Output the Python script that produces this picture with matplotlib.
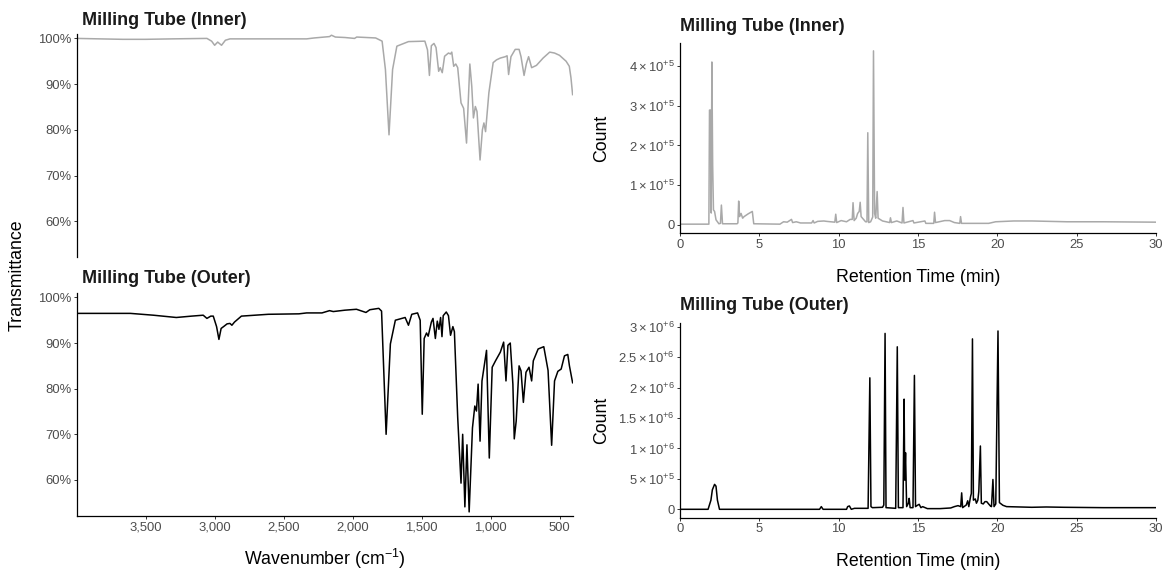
import matplotlib
matplotlib.use("Agg")
import matplotlib.pyplot as plt
from matplotlib.ticker import FuncFormatter, FixedLocator

plt.rcParams['font.family'] = ['Liberation Sans', 'DejaVu Sans']
plt.rcParams['mathtext.fontset'] = 'custom'
plt.rcParams['mathtext.rm'] = 'Liberation Sans'
plt.rcParams['mathtext.it'] = 'Liberation Sans:italic'
plt.rcParams['mathtext.bf'] = 'Liberation Sans:bold'

# ---------------- DATA ----------------
ir_inner_wn = [4000, 3667, 3500, 3306, 3056, 3022, 3000, 2978, 2950, 2922, 2889, 2611, 2333, 2278,
               2167, 2153, 2125, 2056, 1986, 1970, 1833, 1786, 1762, 1736, 1710, 1679, 1595, 1476,
               1457, 1443, 1429, 1410, 1395, 1376, 1365, 1350, 1333, 1305, 1290, 1281, 1267, 1252,
               1238, 1214, 1195, 1174, 1150, 1136, 1124, 1110, 1098, 1076, 1059, 1048, 1036, 1012,
               981, 957, 929, 893, 880, 869, 852, 821, 793, 779, 757, 740, 724, 702, 667, 619, 571,
               536, 500, 452, 429, 417, 405]
ir_inner_t = [100.0, 99.8, 99.8, 99.9, 100.0, 99.4, 98.5, 99.2, 98.5, 99.6, 99.9, 99.9, 99.9, 100.1,
              100.4, 100.7, 100.3, 100.2, 100.0, 100.3, 100.1, 99.4, 93.2, 78.9, 93.2, 98.3, 99.3, 99.4,
              97.5, 91.9, 98.4, 98.9, 98.0, 92.8, 93.6, 92.5, 96.1, 96.8, 96.6, 97.0, 93.9, 94.4,
              93.6, 85.9, 84.7, 77.1, 94.4, 89.5, 82.6, 85.1, 84.0, 73.4, 80.0, 81.5, 79.6, 88.1,
              94.7, 95.3, 95.7, 96.0, 96.2, 92.1, 96.0, 97.6, 97.6, 96.0, 91.9, 94.5, 96.0, 93.6, 94.1, 95.7, 97.0,
              96.8, 96.3, 95.0, 93.9, 91.4, 87.7]

ir_outer_wn = [4000, 3611, 3444, 3278, 3167, 3083, 3056, 3028, 3010, 2986, 2969, 2953, 2931, 2910,
               2889, 2875, 2856, 2806, 2611, 2389, 2333, 2222, 2167, 2140, 2056, 1972, 1903, 1875,
               1810, 1790, 1757, 1726, 1690, 1619, 1595, 1571, 1529, 1510, 1495, 1481, 1464, 1452,
               1429, 1417, 1400, 1386, 1374, 1362, 1352, 1343, 1321, 1305, 1290, 1273, 1262, 1238,
               1214, 1202, 1186, 1171, 1155, 1131, 1114, 1102, 1090, 1076, 1062, 1029, 1009, 988,
               964, 929, 905, 888, 874, 857, 838, 828, 814, 793, 779, 762, 743, 721, 702, 690, 655,
               614, 583, 557, 536, 512, 488, 464, 440, 428, 405]
ir_outer_t = [96.5, 96.5, 96.1, 95.6, 95.9, 96.1, 95.4, 95.9, 95.9, 93.6, 90.8, 93.2, 93.7, 94.2,
              94.3, 93.9, 94.6, 95.9, 96.3, 96.4, 96.6, 96.6, 97.1, 96.9, 97.2, 97.4, 96.7, 97.3,
              97.6, 97.0, 70.0, 89.8, 95.0, 95.6, 93.9, 96.3, 96.6, 95.0, 74.4, 91.0, 92.2, 91.5,
              94.6, 95.4, 91.0, 94.8, 93.0, 95.6, 91.4, 96.0, 96.8, 96.0, 91.7, 93.6, 92.5, 73.7,
              59.3, 70.0, 54.1, 67.7, 53.0, 71.4, 76.2, 75.1, 81.0, 68.5, 81.7, 88.4, 64.8, 84.7,
              86.1, 88.0, 90.2, 81.7, 89.5, 90.0, 81.0, 69.0, 72.9, 85.0, 83.9, 77.0, 83.6, 84.7, 81.7, 86.1, 88.7,
              89.2, 84.0, 67.6, 81.7, 83.8, 84.3, 87.2, 87.5, 85.0, 81.3]

gc_inner_time = [0.00, 1.82, 1.86, 1.93, 1.97, 2.01, 2.06, 2.11, 2.18, 2.27, 2.45, 2.55, 2.61, 2.68,
                 3.60, 3.65, 3.70, 3.76, 3.85, 3.95, 4.04, 4.30, 4.56, 4.65, 6.30, 6.53, 6.76, 7.03,
                 7.10, 7.33, 7.60, 8.30, 8.39, 8.46, 8.68, 9.07, 9.25, 9.76, 9.82, 9.88, 10.16, 10.50,
                 10.73, 10.86, 10.91, 10.98, 11.11, 11.20, 11.30, 11.36, 11.42, 11.70, 11.79, 11.84,
                 11.90, 12.02, 12.15, 12.20, 12.27, 12.34, 12.43, 12.49, 12.77, 13.00, 13.22, 13.27,
                 13.33, 13.67, 14.00, 14.06, 14.12, 14.69, 14.75, 15.44, 15.50, 16.00, 16.05, 16.11,
                 16.69, 17.00, 17.30, 17.64, 17.69, 17.75, 18.55, 19.46, 19.90, 21.04, 22.20, 24.40,
                 26.70, 30.00]
gc_inner_count = [0.02, 0.02, 2.89, 2.89, 0.30, 4.10, 1.50, 0.38, 0.34, 0.13, 0.03, 0.04, 0.50, 0.03,
                  0.03, 0.05, 0.60, 0.21, 0.29, 0.17, 0.21, 0.28, 0.34, 0.03, 0.02, 0.08, 0.07, 0.14,
                  0.06, 0.08, 0.05, 0.05, 0.11, 0.05, 0.09, 0.10, 0.09, 0.07, 0.27, 0.06, 0.11, 0.08,
                  0.14, 0.14, 0.56, 0.11, 0.17, 0.29, 0.34, 0.57, 0.21, 0.08, 0.08, 2.32,
                  0.06, 0.08, 0.20, 4.38, 0.29, 0.17, 0.84, 0.17, 0.10, 0.08, 0.06, 0.18,
                  0.06, 0.10, 0.05, 0.44, 0.05, 0.11, 0.05, 0.10, 0.04, 0.04, 0.32, 0.06,
                  0.11, 0.11, 0.06, 0.04, 0.21, 0.04, 0.04, 0.04, 0.08, 0.10, 0.10, 0.08,
                  0.08, 0.07]  # x 1e5

gc_outer_time = [0.00, 1.77, 1.95, 2.04, 2.18, 2.27, 2.36, 2.49, 8.80, 8.91, 9.02, 10.50, 10.57, 10.68,
                 10.80, 11.00, 11.86, 11.97, 12.04, 12.13, 12.77, 12.85, 12.93, 12.99, 13.60, 13.70,
                 13.77, 14.06, 14.13, 14.17, 14.22, 14.29, 14.40, 14.45, 14.51, 14.69, 14.78, 14.85,
                 14.97, 15.08, 15.19, 15.30, 15.60, 16.39, 17.07, 17.30, 17.53, 17.70, 17.76, 17.82,
                 18.05, 18.14, 18.21, 18.32, 18.37, 18.44, 18.50, 18.62, 18.69, 18.78, 18.84, 18.94,
                 19.00, 19.12, 19.23, 19.34, 19.46, 19.57, 19.64, 19.73, 19.80, 19.91, 20.05, 20.14,
                 20.25, 20.36, 20.59, 22.18, 23.09, 24.22, 26.70, 30.00]
gc_outer_count = [0.0, 0.0, 0.15, 0.32, 0.41, 0.38, 0.15, 0.0, 0.0, 0.044, 0.0, 0.0, 0.044, 0.055,
                  0.0, 0.016, 0.016, 2.16, 0.044, 0.027, 0.033, 0.07, 2.89, 0.027, 0.016, 2.67,
                  0.027, 0.027, 1.81, 0.48, 0.93, 0.044, 0.10, 0.18, 0.027, 0.027, 2.20, 0.044,
                  0.066, 0.082, 0.027, 0.044, 0.011, 0.011, 0.022, 0.044, 0.060, 0.044, 0.27, 0.027,
                  0.071, 0.14, 0.044, 0.21, 0.26, 2.80, 0.15, 0.17, 0.10, 0.15, 0.29, 1.04,
                  0.10, 0.088, 0.126, 0.126, 0.088, 0.055, 0.044, 0.49, 0.044, 0.088, 2.93, 0.11,
                  0.088, 0.066, 0.044, 0.033, 0.038, 0.033, 0.027, 0.027]  # x 1e6

ir_xticks = [3500, 3000, 2500, 2000, 1500, 1000, 500]
ir_yticks = [60, 70, 80, 90, 100]
gc_xticks = [0, 5, 10, 15, 20, 25, 30]
gc_inner_yticks = [0, 1e5, 2e5, 3e5, 4e5]
gc_inner_ylabels = ['0', r'$1\times10^{+5}$', r'$2\times10^{+5}$', r'$3\times10^{+5}$', r'$4\times10^{+5}$']
gc_outer_yticks = [0, 5e5, 1e6, 1.5e6, 2e6, 2.5e6, 3e6]
gc_outer_ylabels = ['0', r'$5\times10^{+5}$', r'$1\times10^{+6}$', r'$1.5\times10^{+6}$',
                    r'$2\times10^{+6}$', r'$2.5\times10^{+6}$', r'$3\times10^{+6}$']

INNER_COLOR = '#a9a9a9'
OUTER_COLOR = '#000000'
TICK_COLOR = '#4d4d4d'

# ---------------- FIGURE ----------------
W, H = 1164, 572
fig = plt.figure(figsize=(W / 100, H / 100), dpi=100)

def box(x0, y0, x1, y1):
    return [x0 / W, 1 - y1 / H, (x1 - x0) / W, (y1 - y0) / H]

ax_ir_in = fig.add_axes(box(76.7, 34.3, 573.3, 257.3))
ax_ir_out = fig.add_axes(box(76.7, 293.3, 573.3, 516.0))
ax_gc_in = fig.add_axes(box(680.0, 43.3, 1155.8, 233.3))
ax_gc_out = fig.add_axes(box(680.0, 322.7, 1155.8, 517.7))

def style(ax, bottom=True):
    for s in ['top', 'right']:
        ax.spines[s].set_visible(False)
    ax.spines['left'].set_linewidth(0.9)
    ax.spines['bottom'].set_linewidth(0.9)
    ax.spines['bottom'].set_visible(bottom)
    ax.tick_params(axis='both', length=2.5, width=0.7, color='#333333',
                   labelcolor=TICK_COLOR, labelsize=9.4, pad=1.5)
    if not bottom:
        ax.tick_params(axis='x', bottom=False, labelbottom=False)

ax_ir_in.plot(ir_inner_wn, ir_inner_t, color=INNER_COLOR, lw=1.1)
ax_ir_out.plot(ir_outer_wn, ir_outer_t, color=OUTER_COLOR, lw=1.1)
for ax, bottom in [(ax_ir_in, False), (ax_ir_out, True)]:
    ax.set_xlim(4000, 400)
    ax.set_ylim(52.1, 100.9)
    ax.yaxis.set_major_locator(FixedLocator(ir_yticks))
    ax.yaxis.set_major_formatter(FuncFormatter(lambda v, p: f'{v:.0f}%'))
    ax.xaxis.set_major_locator(FixedLocator(ir_xticks))
    ax.xaxis.set_major_formatter(FuncFormatter(lambda v, p: f'{v:,.0f}'))
    style(ax, bottom)

ax_gc_in.plot(gc_inner_time, [c * 1e5 for c in gc_inner_count], color=INNER_COLOR, lw=1.1)
ax_gc_out.plot(gc_outer_time, [c * 1e6 for c in gc_outer_count], color=OUTER_COLOR, lw=1.1)
ax_gc_in.set_ylim(-0.21e5, 4.57e5)
ax_gc_out.set_ylim(-0.138e6, 3.066e6)
ax_gc_in.set_yticks(gc_inner_yticks)
ax_gc_in.set_yticklabels(gc_inner_ylabels)
ax_gc_out.set_yticks(gc_outer_yticks)
ax_gc_out.set_yticklabels(gc_outer_ylabels)
for ax in [ax_gc_in, ax_gc_out]:
    ax.set_xlim(0, 30)
    ax.set_xticks(gc_xticks)
    ax.set_xticklabels([str(t) for t in gc_xticks])
    style(ax, True)

# titles
title_kw = dict(fontsize=13, fontweight='bold', color='#1a1a1a', va='center', ha='left')
fig.text(82 / W, 1 - 20.7 / H, 'Milling Tube (Inner)', **title_kw)
fig.text(82 / W, 1 - 278.3 / H, 'Milling Tube (Outer)', **title_kw)
fig.text(680 / W, 1 - 26.7 / H, 'Milling Tube (Inner)', **title_kw)
fig.text(680 / W, 1 - 305 / H, 'Milling Tube (Outer)', **title_kw)

# axis labels
lab_kw = dict(fontsize=12.8, color='#000000', va='center', ha='center')
fig.text(17 / W, 1 - 275 / H, 'Transmittance', rotation=90, **lab_kw)
fig.text(325 / W, 1 - 559 / H, r'Wavenumber (cm$^{-1}$)', **lab_kw)
fig.text(602 / W, 1 - 138 / H, 'Count', rotation=90, **lab_kw)
fig.text(602 / W, 1 - 420 / H, 'Count', rotation=90, **lab_kw)
fig.text(918 / W, 1 - 277 / H, 'Retention Time (min)', **lab_kw)
fig.text(918 / W, 1 - 561 / H, 'Retention Time (min)', **lab_kw)

fig.savefig('out.png', dpi=100, facecolor='white')
